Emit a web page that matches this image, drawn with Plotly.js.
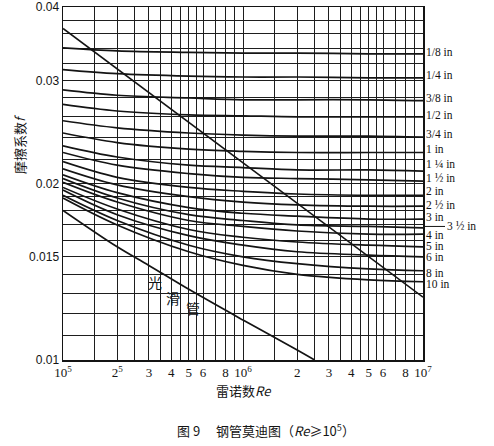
<!DOCTYPE html>
<html><head><meta charset="utf-8">
<script src="https://cdn.plot.ly/plotly-3.0.1.min.js"></script>
<style>html,body{margin:0;padding:0;background:#fff;}#chart{width:494px;height:446px;}</style>
</head><body><div id="chart"></div>
<script>
// Reynolds numbers at which the curves were read
const reynolds = [1e5, 2e5, 5e5, 1e6, 2e6, 5e6, 1e7];

// Friction factor read for each nominal steel pipe size
const f_1_8  = [0.0341, 0.0337, 0.0335, 0.0334, 0.0334, 0.0333, 0.0333];
const f_1_4  = [0.0313, 0.0308, 0.0305, 0.0304, 0.0304, 0.0303, 0.0303];
const f_3_8  = [0.0289, 0.0283, 0.0280, 0.0278, 0.0278, 0.0278, 0.0277];
const f_1_2  = [0.0273, 0.0266, 0.0262, 0.0261, 0.0260, 0.0260, 0.0260];
const f_3_4  = [0.0256, 0.0249, 0.0244, 0.0242, 0.0241, 0.0241, 0.0240];
const f_1    = [0.0244, 0.0235, 0.0229, 0.0227, 0.0226, 0.0226, 0.0226];
const f_1_25 = [0.0232, 0.0222, 0.0215, 0.0213, 0.0211, 0.0211, 0.0210];
const f_1_5  = [0.0226, 0.0215, 0.0208, 0.0205, 0.0204, 0.0203, 0.0202];
const f_2    = [0.0218, 0.0205, 0.0197, 0.0194, 0.0192, 0.0191, 0.0191];
const f_2_5  = [0.0212, 0.0199, 0.0190, 0.0186, 0.0184, 0.0183, 0.0183];
const f_3    = [0.0207, 0.0193, 0.0182, 0.0178, 0.0176, 0.0174, 0.0174];
const f_3_5  = [0.0204, 0.0189, 0.0177, 0.0173, 0.0170, 0.0169, 0.0168];
const f_4    = [0.0201, 0.0186, 0.0173, 0.0169, 0.0166, 0.0164, 0.0164];
const f_5    = [0.0197, 0.0181, 0.0167, 0.0162, 0.0159, 0.0157, 0.0156];
const f_6    = [0.0195, 0.0177, 0.0163, 0.0157, 0.0153, 0.0151, 0.0150];
const f_8    = [0.0191, 0.0173, 0.0157, 0.0150, 0.0146, 0.0143, 0.0142];
const f_10   = [0.0189, 0.0170, 0.0153, 0.0145, 0.0140, 0.0137, 0.0136];

const pipeLabels = ["1/8 in", "1/4 in", "3/8 in", "1/2 in", "3/4 in", "1 in", "1 ¼ in", "1 ½ in",
  "2 in", "2 ½ in", "3 in", "3 ½ in", "4 in", "5 in", "6 in", "8 in", "10 in"];
// f level at which each size label sits beside the right axis
const labelF = [0.0336, 0.0307, 0.0280, 0.0262, 0.0243, 0.0229, 0.0216, 0.02045,
  0.0194, 0.0184, 0.01756, 0.0169, 0.01636, 0.01568, 0.0150, 0.0141, 0.01346];
const pipeSeries = [f_1_8, f_1_4, f_3_8, f_1_2, f_3_4, f_1, f_1_25, f_1_5,
  f_2, f_2_5, f_3, f_3_5, f_4, f_5, f_6, f_8, f_10];

// smooth pipe (光滑管)
const smoothRe = [1e5, 2e5, 3e5, 5e5, 1e6, 2e6, 2.5e6];
const smoothF  = [0.0180, 0.0156, 0.0145, 0.0132, 0.0117, 0.0104, 0.0100];

// straight boundary line
const boundaryRe = [1e5, 1e7];
const boundaryF  = [0.0368, 0.0128];

// axis ticks / grid
const xTickVals = [1e5,1.5e5,2e5,2.5e5,3e5,3.5e5,4e5,4.5e5,5e5,5.5e5,6e5,7e5,8e5,9e5,
  1e6,1.5e6,2e6,2.5e6,3e6,3.5e6,4e6,4.5e6,5e6,5.5e6,6e6,7e6,8e6,9e6,1e7];
const xTickText = ['10<sup>5</sup>','','2<sup>5</sup>','','3','','4','','5','','6','','8','',
  '10<sup>6</sup>','','2','','3','','4','','5','','6','','8','','10<sup>7</sup>'];
const yTickVals = [0.010,0.011,0.012,0.013,0.014,0.015,0.016,0.017,0.018,0.019,
  0.020,0.022,0.024,0.026,0.028,0.030,0.032,0.034,0.036,0.038,0.040];
const yTickText = ['0.01','','','','','0.015','','','','',
  '0.02','','','','','0.03','','','','','0.04'];

const ink = '#141414';
const traces = pipeSeries.map((ys, i) => ({
  x: reynolds, y: ys, mode: 'lines', name: pipeLabels[i],
  line: {color: ink, width: 1.7, shape: 'spline', smoothing: 1}, hoverinfo: 'skip'
}));
traces.push({x: smoothRe, y: smoothF, mode: 'lines', name: '光滑管',
  line: {color: ink, width: 1.7, shape: 'spline', smoothing: 1}});
traces.push({x: boundaryRe, y: boundaryF, mode: 'lines', name: 'boundary',
  line: {color: ink, width: 1.6}});

const serif = 'Liberation Serif, Times New Roman, serif';
const cjk = 'Noto Sans CJK SC, sans-serif';

const annotations = pipeLabels.map((t, i) => {
  const a = {xref: 'paper', yref: 'y', x: 1, y: Math.log10(labelF[i]), text: t,
    xanchor: 'left', yanchor: 'middle', showarrow: false, xshift: 1,
    font: {family: serif, size: 11.5, color: ink}};
  if (t === '3 ½ in') {
    a.showarrow = true; a.arrowhead = 0; a.arrowwidth = 1; a.arrowcolor = ink;
    a.ax = 22; a.ay = 0; a.xshift = 0;
  }
  return a;
});
const note = (x, y, text, size, extra) => Object.assign({xref:'paper', yref:'paper', x, y, text,
  xanchor:'center', yanchor:'middle', showarrow:false, font:{family:cjk, size, color:ink}}, extra || {});
annotations.push(
  note(-0.119, 0.612, '摩擦系数<i>f</i>', 13, {textangle: -90}),
  note(0.503, -0.085, '雷诺数<i>Re</i>', 13),
  note(0.564, -0.198, '图 9　 钢管莫迪图（<i>Re</i>≥10<sup>5</sup>）', 13),
  note(0.2556, 0.221, '光', 14),
  note(0.3056, 0.176, '滑', 14),
  note(0.3611, 0.147, '管', 14)
);

const layout = {
  width: 494, height: 446,
  margin: {l: 63, r: 71, t: 7, b: 86},
  paper_bgcolor: '#fff', plot_bgcolor: '#fff',
  showlegend: false,
  xaxis: {type: 'log', range: [5, 7], tickmode: 'array', tickvals: xTickVals, ticktext: xTickText,
    tickangle: 0, showgrid: true, gridcolor: '#1e1e1e', gridwidth: 1, showline: true, linecolor: ink, linewidth: 1.5,
    mirror: true, ticks: '', zeroline: false, tickfont: {family: serif, size: 13, color: ink}},
  yaxis: {type: 'log', range: [-2, Math.log10(0.04) + 0.0003], tickmode: 'array', tickvals: yTickVals, ticktext: yTickText,
    ticklabeloverflow: 'allow', showgrid: true, gridcolor: '#1e1e1e', gridwidth: 1, showline: true, linecolor: ink, linewidth: 1.5,
    mirror: true, ticks: '', zeroline: false, tickfont: {family: 'Liberation Sans, Arial, sans-serif', size: 12, color: ink}},
  annotations: annotations
};
Plotly.newPlot('chart', traces, layout, {staticPlot: true, displayModeBar: false});
</script></body></html>
